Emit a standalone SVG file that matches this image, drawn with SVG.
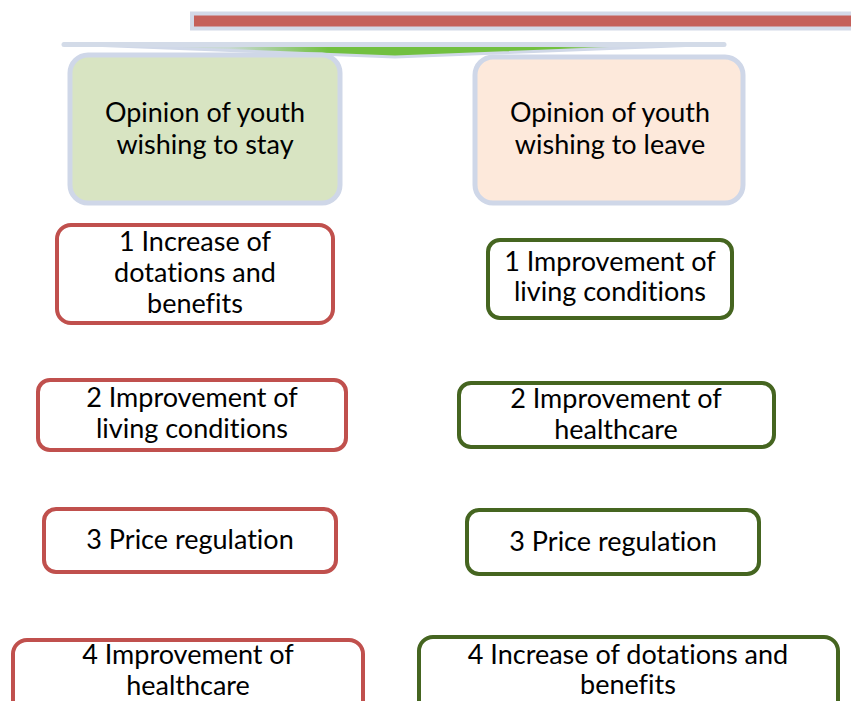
<svg xmlns="http://www.w3.org/2000/svg" width="851" height="701" viewBox="0 0 851 701">
<defs>
<linearGradient id="gr" x1="0" y1="0" x2="1" y2="0">
<stop offset="0" stop-color="#d3dbe8"/>
<stop offset="0.25" stop-color="#c9d9d4"/>
<stop offset="0.4" stop-color="#72c040"/>
<stop offset="0.75" stop-color="#72c040"/>
<stop offset="0.85" stop-color="#c9d9d4"/>
<stop offset="1" stop-color="#d3dbe8"/>
</linearGradient>
</defs>
<style>
text{font-family:Lato,"Liberation Sans",sans-serif;font-size:27px;fill:#000;text-anchor:middle;font-variant-ligatures:none}
.hd{stroke:#cfd7e8;stroke-width:5}
.red{fill:#fff;stroke:#c0504d;stroke-width:4}
.grn{fill:#fff;stroke:#456520;stroke-width:4}
</style>
<g id="connectors">
<rect x="192" y="13.5" width="665" height="15" fill="#c5605a" stroke="#d3d9e8" stroke-width="4"/>
<polygon points="64,44 724,44 395,57" fill="url(#gr)" stroke="#d0d8e8" stroke-width="3" stroke-linejoin="round"/>
<line x1="64" y1="44.5" x2="724" y2="44.5" stroke="#d3dbe8" stroke-width="5" stroke-linecap="round"/>
</g>
<g id="h-stay">
<rect class="hd" x="70" y="55" width="270" height="148" rx="18" fill="#d8e4c2"/>
<text x="205" y="122" textLength="200" lengthAdjust="spacingAndGlyphs">Opinion of youth</text>
<text x="205" y="154">wishing to stay</text>
</g>
<g id="h-leave">
<rect class="hd" x="475" y="57" width="268" height="146" rx="18" fill="#fde9db"/>
<text x="610" y="122" textLength="200" lengthAdjust="spacingAndGlyphs">Opinion of youth</text>
<text x="610" y="154">wishing to leave</text>
</g>
<g id="s1">
<rect class="red" x="57" y="225" width="276" height="98" rx="14"/>
<text x="195" y="251">1 Increase of</text>
<text x="195" y="282">dotations and</text>
<text x="195" y="313">benefits</text>
</g>
<g id="s2">
<rect class="red" x="38" y="380" width="308" height="70" rx="12"/>
<text x="192" y="407">2 Improvement of</text>
<text x="192" y="438">living conditions</text>
</g>
<g id="s3">
<rect class="red" x="44" y="509" width="292" height="63" rx="12"/>
<text x="190" y="549">3 Price regulation</text>
</g>
<g id="s4">
<rect class="red" x="13" y="640" width="350" height="80" rx="14"/>
<text x="188" y="664">4 Improvement of</text>
<text x="188" y="695">healthcare</text>
</g>
<g id="l1">
<rect class="grn" x="488" y="240" width="244" height="78" rx="12"/>
<text x="610" y="271">1 Improvement of</text>
<text x="610" y="301">living conditions</text>
</g>
<g id="l2">
<rect class="grn" x="459" y="383" width="315" height="64" rx="12"/>
<text x="616" y="408">2 Improvement of</text>
<text x="616" y="439">healthcare</text>
</g>
<g id="l3">
<rect class="grn" x="467" y="510" width="292" height="64" rx="12"/>
<text x="613" y="551">3 Price regulation</text>
</g>
<g id="l4">
<rect class="grn" x="419" y="637" width="419" height="80" rx="14"/>
<text x="628" y="664">4 Increase of dotations and</text>
<text x="628" y="694">benefits</text>
</g>
</svg>
